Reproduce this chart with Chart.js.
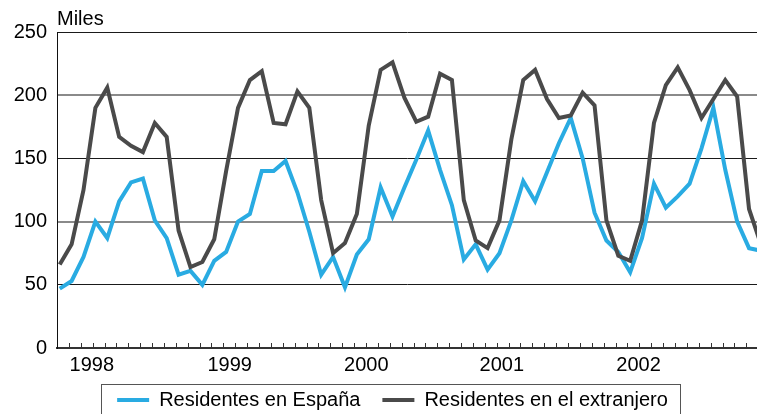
<!DOCTYPE html>
<html>
<head>
<meta charset="utf-8">
<script src="https://cdn.jsdelivr.net/npm/chart.js@4"></script>
<style>
  body { margin: 0; background: #fff; }
  canvas { display: block; }
</style>
</head>
<body>
<canvas id="chart" width="757" height="414"></canvas>
<script>
// Monthly values, Jan 1998 - Dec 2002 (thousands)
const espana = [
  47, 53, 72, 100, 87, 116, 131, 134, 101, 87, 58, 61,
  50, 69, 76, 100, 106, 140, 140, 148, 123, 92, 58, 72,
  48, 74, 86, 127, 104, 127, 149, 172, 141, 113, 70, 82,
  62, 75, 101, 132, 116, 139, 162, 182, 150, 107, 85, 76,
  60, 87, 130, 111, 120, 130, 158, 190, 141, 100, 79, 77
];
const extranjero = [
  66, 82, 125, 190, 206, 167, 160, 155, 178, 167, 93, 64,
  68, 86, 140, 190, 212, 219, 178, 177, 203, 190, 117, 75,
  83, 106, 176, 220, 226, 198, 179, 183, 217, 212, 117, 85,
  79, 101, 165, 212, 220, 197, 182, 184, 202, 192, 101, 73,
  69, 101, 178, 208, 222, 204, 182, 197, 212, 199, 110, 82
];
const seriesNames = ['Residentes en España', 'Residentes en el extranjero'];
const years = ['1998', '1999', '2000', '2001', '2002'];
const yearTickPos = [2.7, 14.3, 25.8, 37.2, 48.7]; // label positions, in months
const yTicks = [0, 50, 100, 150, 200, 250];

const FONT = '"Liberation Sans", Arial, Helvetica, sans-serif';
const BLUE = '#29abe2';
const DARK = '#4a4a4a';

const toPoints = arr => arr.map((v, i) => ({ x: i, y: v }));

// "Miles" unit label, monthly tick marks, legend frame
const extras = {
  id: 'extras',
  afterLayout(chart) {
    // legend sits a little right of centre and overlaps the axis band
    chart.legend.left = 28;
    chart.legend.top -= 6;
  },
  afterDraw(chart) {
    const { ctx, chartArea, scales } = chart;
    ctx.save();
    ctx.font = '20px ' + FONT;
    ctx.fillStyle = '#000';
    ctx.textBaseline = 'alphabetic';
    ctx.textAlign = 'left';
    ctx.fillText('Miles', chartArea.left, 25);

    ctx.strokeStyle = '#333';
    ctx.lineWidth = 1;
    ctx.beginPath();
    for (let i = 1; i < espana.length; i++) {
      const v = i - 0.23;
      if (v > scales.x.max) break;
      const px = Math.round(scales.x.getPixelForValue(v)) + 0.5;
      ctx.moveTo(px, chartArea.bottom - 5);
      ctx.lineTo(px, chartArea.bottom);
    }
    ctx.stroke();

    const hb = chart.legend.legendHitBoxes;
    if (hb && hb.length) {
      const first = hb[0], last = hb[hb.length - 1];
      const x0 = Math.round(first.left - 16) + 0.5;
      const x1 = Math.round(last.left + last.width + 12) + 0.5;
      const y0 = Math.round(first.top - 6) + 0.5;
      ctx.strokeStyle = '#555';
      ctx.strokeRect(x0, y0, x1 - x0, 30);
    }
    ctx.restore();
  }
};

const ctx = document.getElementById('chart').getContext('2d');
new Chart(ctx, {
  type: 'line',
  data: {
    datasets: [{
      label: seriesNames[0],
      data: toPoints(espana),
      borderColor: BLUE,
      backgroundColor: BLUE,
      borderWidth: 4,
      order: 1
    }, {
      label: seriesNames[1],
      data: toPoints(extranjero),
      borderColor: DARK,
      backgroundColor: DARK,
      borderWidth: 4,
      order: 0
    }]
  },
  options: {
    responsive: false,
    animation: false,
    layout: { padding: { left: 0, right: 0, top: 32, bottom: -12 } },
    elements: {
      point: { radius: 0 },
      line: { tension: 0, borderJoinStyle: 'miter', fill: false }
    },
    scales: {
      x: {
        type: 'linear',
        min: -0.23,
        max: 58.67,
        afterBuildTicks: scale => {
          scale.ticks = yearTickPos.map(v => ({ value: v }));
        },
        afterFit: scale => { scale.height = 26; },
        ticks: {
          callback: (value, index) => years[index],
          color: '#000',
          padding: 5,
          maxRotation: 0,
          autoSkip: false,
          font: { family: FONT, size: 20 }
        },
        grid: { display: false, drawTicks: false },
        border: { display: true, color: '#333', width: 2 }
      },
      y: {
        min: 0,
        max: 250,
        afterBuildTicks: scale => {
          scale.ticks = yTicks.map(v => ({ value: v }));
        },
        afterFit: scale => { scale.width = 57; },
        ticks: {
          color: '#000',
          padding: 10,
          font: { family: FONT, size: 20 }
        },
        grid: {
          drawTicks: false,
          color: c => (c.tick && (c.tick.value === 100 || c.tick.value === 200)) ? '#8a8a8a' : '#1a1a1a',
          lineWidth: c => (c.tick && (c.tick.value === 100 || c.tick.value === 200)) ? 2 : 1
        },
        border: { display: true, color: '#111', width: 1 }
      }
    },
    plugins: {
      legend: {
        position: 'bottom',
        labels: {
          boxWidth: 32,
          boxHeight: 4,
          padding: 22,
          color: '#000',
          font: { family: FONT, size: 20 },
          sort: (a, b) => a.datasetIndex - b.datasetIndex,
          generateLabels: chart =>
            Chart.defaults.plugins.legend.labels.generateLabels(chart)
              .map(item => ({ ...item, lineWidth: 0 }))
        }
      },
      tooltip: { enabled: false }
    }
  },
  plugins: [extras]
});
</script>
</body>
</html>
